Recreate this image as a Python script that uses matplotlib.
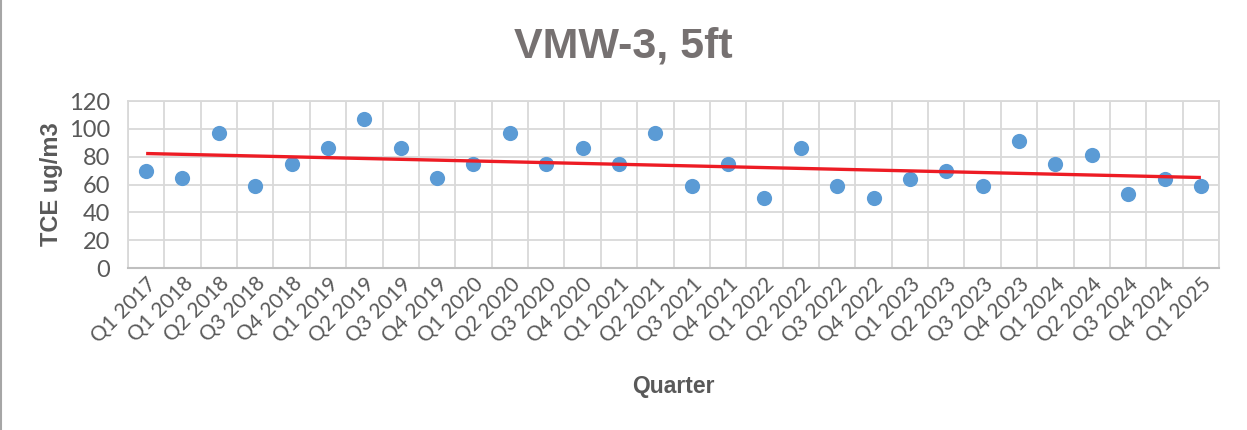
import matplotlib.pyplot as plt
import numpy as np
from matplotlib.lines import Line2D

quarters = ["Q1 2017", "Q1 2018", "Q2 2018", "Q3 2018", "Q4 2018",
            "Q1 2019", "Q2 2019", "Q3 2019", "Q4 2019",
            "Q1 2020", "Q2 2020", "Q3 2020", "Q4 2020",
            "Q1 2021", "Q2 2021", "Q3 2021", "Q4 2021",
            "Q1 2022", "Q2 2022", "Q3 2022", "Q4 2022",
            "Q1 2023", "Q2 2023", "Q3 2023", "Q4 2023",
            "Q1 2024", "Q2 2024", "Q3 2024", "Q4 2024",
            "Q1 2025"]
tce = [70, 65, 97, 59, 75, 86, 107, 86, 65, 75, 97, 75, 86, 75, 97,
       59, 75, 50, 86, 59, 50, 64, 70, 59, 91, 75, 81, 53, 64, 59]
yticks = [0, 20, 40, 60, 80, 100, 120]

gray = "#595959"
title_gray = "#767171"

fig = plt.figure(figsize=(12.47, 4.30), dpi=100)
ax = fig.add_axes([0.1026, 0.3767, 0.875, 0.3883])

x = np.arange(len(quarters))
ax.scatter(x, tce, s=120, color="#5B9BD5", zorder=3, linewidths=0)

# linear trendline
m, b = np.polyfit(x, tce, 1)
ax.plot([x[0], x[-1]], [m * x[0] + b, m * x[-1] + b], color="#ED1C24",
        lw=2.4, zorder=4, solid_capstyle="butt")

ax.set_xlim(-0.5, len(quarters) - 0.5)
ax.set_ylim(0, 120)
ax.set_yticks(yticks)
ax.set_xticks(x)
ax.set_xticks(np.arange(-0.5, len(quarters)), minor=True)
ax.grid(True, which="minor", axis="x", color="#D9D9D9", lw=1.3)
ax.grid(True, which="major", axis="y", color="#D9D9D9", lw=1.3)
ax.set_axisbelow(True)

for s in ["top", "right", "left"]:
    ax.spines[s].set_color("#D9D9D9")
    ax.spines[s].set_linewidth(1.3)
ax.spines["bottom"].set_color("#BFBFBF")
ax.spines["bottom"].set_linewidth(1.5)
ax.tick_params(which="both", length=0)

ax.set_yticklabels([str(v) for v in yticks], family="Lato", fontsize=17, color=gray)
ax.set_xticklabels(quarters, family="Lato", fontsize=15, color=gray,
                   rotation=45, ha="right", va="top", rotation_mode="anchor")
ax.tick_params(axis="x", pad=4)
ax.tick_params(axis="y", pad=13)

ax.set_ylabel("TCE ug/m3", family="Liberation Sans", fontsize=17,
              fontweight="bold", color=gray, labelpad=4)
ax.set_xlabel("Quarter", family="Liberation Sans", fontsize=16.5,
              fontweight="bold", color=gray, labelpad=21)
fig.text(0.50, 0.893, "VMW-3, 5ft", family="Liberation Sans", fontsize=31,
         fontweight="bold", color=title_gray, ha="center", va="center")

fig.add_artist(Line2D([0.001, 0.001], [0, 1], transform=fig.transFigure,
                      color="#A6A6A6", lw=1.5))

fig.savefig("out.png", dpi=100)
